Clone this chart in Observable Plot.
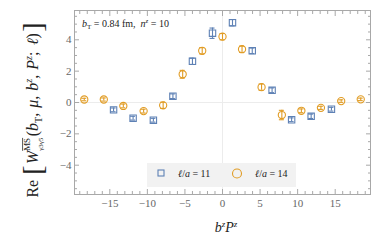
<!DOCTYPE html>
<html><head><meta charset="utf-8">
<script src="https://cdn.jsdelivr.net/npm/d3@7"></script>
<script src="https://cdn.jsdelivr.net/npm/@observablehq/plot@0.6"></script>
<style>body{margin:0;background:#fff}#chart{position:relative;width:382px;height:243px}.rt{white-space:pre}</style>
</head><body><div id="chart"></div>
<script>
// ℓ/a = 11 (blue squares)
const blueX   = [-14.5, -11.9, -9.2, -6.6, -4.0, -1.33, 1.33, 3.96, 6.6, 9.2, 11.8, 14.5];
const blueY   = [-0.47, -1.0, -1.13, 0.40, 2.63, 4.42, 5.09, 3.30, 0.78, -1.10, -0.88, -0.43];
const blueErr = [0.12, 0.12, 0.12, 0.15, 0.2, 0.33, 0.2, 0.18, 0.15, 0.12, 0.14, 0.12];
// ℓ/a = 14 (orange circles)
const orangeX   = [-18.4, -15.8, -13.2, -10.5, -7.9, -5.3, -2.7, 0, 2.6, 5.2, 7.9, 10.5, 13.1, 15.8, 18.4];
const orangeY   = [0.19, 0.19, -0.22, -0.55, -0.18, 1.80, 3.30, 4.20, 3.40, 0.98, -0.80, -0.53, -0.34, 0.09, 0.20];
const orangeErr = [0.08, 0.1, 0.12, 0.12, 0.2, 0.25, 0.2, 0.2, 0.2, 0.2, 0.3, 0.12, 0.1, 0.08, 0.08];

const xTicks = [-15, -10, -5, 0, 5, 10, 15];
const yTicks = [-4, -2, 0, 2, 4];
const xMinor = d3.range(-19, 20, 1).filter(v => v % 5 !== 0);
const yMinor = d3.range(-5.5, 5.51, 0.5).filter(v => v % 2 !== 0);

const blue = blueX.map((x, i) => ({x, y: blueY[i], e: blueErr[i]}));
const orange = orangeX.map((x, i) => ({x, y: orangeY[i], e: orangeErr[i]}));

const C1 = "#5E81B5", C2 = "#E19C24", FR = "#a8a8a8";

function errMarks(data, color) {
  return [
    Plot.ruleX(data, {x: "x", y1: d => d.y - d.e, y2: d => d.y + d.e, stroke: color, strokeWidth: 1.1}),
    Plot.ruleY(data, {y: d => d.y + d.e, x1: "x", x2: "x", insetLeft: -2.5, insetRight: -2.5, stroke: color, strokeWidth: 1.1}),
    Plot.ruleY(data, {y: d => d.y - d.e, x1: "x", x2: "x", insetLeft: -2.5, insetRight: -2.5, stroke: color, strokeWidth: 1.1})
  ];
}
const tickAxes = (ticks, size) => [
  Plot.axisX({ticks, anchor: "bottom", tickSize: size, dy: -size, tickFormat: () => "", label: null, stroke: FR}),
  Plot.axisX({ticks, anchor: "top", tickSize: size, dy: size, tickFormat: () => "", label: null, stroke: FR})
];
const tickAxesY = (ticks, size) => [
  Plot.axisY({ticks, anchor: "left", tickSize: size, dx: size, tickFormat: () => "", label: null, stroke: FR}),
  Plot.axisY({ticks, anchor: "right", tickSize: size, dx: -size, tickFormat: () => "", label: null, stroke: FR})
];

const svg = Plot.plot({
  width: 382, height: 243,
  marginLeft: 74, marginRight: 12, marginTop: 10, marginBottom: 49,
  style: {fontFamily: "'Liberation Serif', serif", fontSize: "11px", color: "#666", background: "white", overflow: "visible"},
  x: {domain: [-19.7, 19.7]},
  y: {domain: [-5.87, 5.87]},
  marks: [
    Plot.ruleX([0], {stroke: "#ececec"}),
    Plot.ruleY([0], {stroke: "#ececec"}),
    ...tickAxes(xTicks, 5), ...tickAxes(xMinor, 3),
    ...tickAxesY(yTicks, 5), ...tickAxesY(yMinor, 3),
    Plot.axisX({ticks: xTicks, anchor: "bottom", tickSize: 0, tickPadding: 5, label: null, fill: "#666"}),
    Plot.axisY({ticks: yTicks, anchor: "left", tickSize: 0, tickPadding: 3, label: null, fill: "#666"}),
    Plot.frame({stroke: FR}),
    ...errMarks(orange, C2),
    Plot.dot(orange, {x: "x", y: "y", r: 3.6, stroke: C2, strokeWidth: 1.1, fill: "none"}),
    ...errMarks(blue, C1),
    Plot.dot(blue, {x: "x", y: "y", symbol: "square", r: 3.6, stroke: C1, strokeWidth: 1.1, fill: "none"})
  ]
});
document.getElementById("chart").appendChild(svg);
const s = d3.select(svg);
const FF = "'Liberation Serif', serif";

// rich text builder
function mk(g, p) {
  return g.append("text").attr("class", "rt").attr("text-anchor", "start")
    .attr("font-family", FF).attr("font-size", p.size || 12.5)
    .attr("font-style", p.italic ? "italic" : "normal").text(p.t);
}
function measure(g, p) {
  const t = mk(g, p);
  const w = t.node().getComputedTextLength(); t.remove(); return w;
}
function draw(g, p, x) {
  mk(g, p).attr("x", x).attr("y", p.shift || 0).attr("fill", "#222");
  if (p.over) {
    const w = measure(g, p), sz = p.size || 12.5;
    g.append("line").attr("x1", x).attr("x2", x + w)
      .attr("y1", (p.shift || 0) - sz * 0.8).attr("y2", (p.shift || 0) - sz * 0.8)
      .attr("stroke", "#222").attr("stroke-width", 0.6);
  }
}
function build(g, pieces) {
  let x = 0;
  for (const p of pieces) {
    if (p.gap) { x += p.gap; continue; }
    if (p.stack) {
      let wm = 0;
      for (const q of p.stack) { draw(g, q, x); wm = Math.max(wm, measure(g, q)); }
      x += wm;
    } else { draw(g, p, x); x += measure(g, p); }
  }
  return x;
}

// y label
const yl = s.append("g").attr("transform", "translate(38,110) rotate(-90)");
const yin = yl.append("g");
const W = build(yin, [
  {t: "Re"}, {gap: 4},
  {t: "[", size: 22, shift: 3}, {gap: 1},
  {t: "W", italic: true},
  {stack: [{t: "MS", size: 7, shift: -6.5, over: true}, {t: "γ3γ5", size: 5.5, shift: 4}]}, {gap: 1},
  {t: "("}, {t: "b", italic: true}, {t: "T", size: 8, shift: 3},
  {t: ","}, {gap: 4}, {t: "μ", italic: true}, {t: ","}, {gap: 4},
  {t: "b", italic: true}, {t: "z", size: 8, italic: true, shift: -5},
  {t: ","}, {gap: 4}, {t: "P", italic: true}, {t: "z", size: 8, italic: true, shift: -5},
  {t: ";"}, {gap: 5}, {t: "ℓ", italic: true}, {t: ")"}, {gap: 1},
  {t: "]", size: 22, shift: 3}
]);
const sc = 175 / W;
yin.attr("transform", `scale(${sc}) translate(${-W / 2},0)`);

// x label
const xl = s.append("g").attr("transform", "translate(226,232)");
const xin = xl.append("g");
const WX = build(xin, [
  {t: "b", italic: true, size: 14}, {t: "z", italic: true, size: 9, shift: -5.5},
  {t: "P", italic: true, size: 14}, {t: "z", italic: true, size: 9, shift: -5.5}
]);
xin.attr("transform", `translate(${-WX / 2},0)`);

// annotation
const an = s.append("g").attr("transform", "translate(82,27)");
build(an, [
  {t: "b", italic: true, size: 10}, {t: "T", size: 7, shift: 2},
  {t: " = 0.84 fm,  ", size: 10}, {t: "n", italic: true, size: 10},
  {t: "z", italic: true, size: 7, shift: -4}, {t: " = 10", size: 10}
]);

// legend
const lg = s.append("g");
lg.append("rect").attr("x", 147).attr("y", 163).attr("width", 149).attr("height", 24).attr("fill", "#f2f2f2");
lg.append("rect").attr("x", 158).attr("y", 170).attr("width", 6).attr("height", 6)
  .attr("fill", "none").attr("stroke", C1).attr("stroke-width", 1.1);
lg.append("circle").attr("cx", 237).attr("cy", 173.5).attr("r", 4.5)
  .attr("fill", "none").attr("stroke", C2).attr("stroke-width", 1.1);
const l1 = lg.append("g").attr("transform", "translate(178,177)");
build(l1, [{t: "ℓ", italic: true, size: 10}, {t: "/", size: 10}, {t: "a", italic: true, size: 10}, {t: " = 11", size: 10}]);
const l2 = lg.append("g").attr("transform", "translate(255,177)");
build(l2, [{t: "ℓ", italic: true, size: 10}, {t: "/", size: 10}, {t: "a", italic: true, size: 10}, {t: " = 14", size: 10}]);
</script></body></html>
